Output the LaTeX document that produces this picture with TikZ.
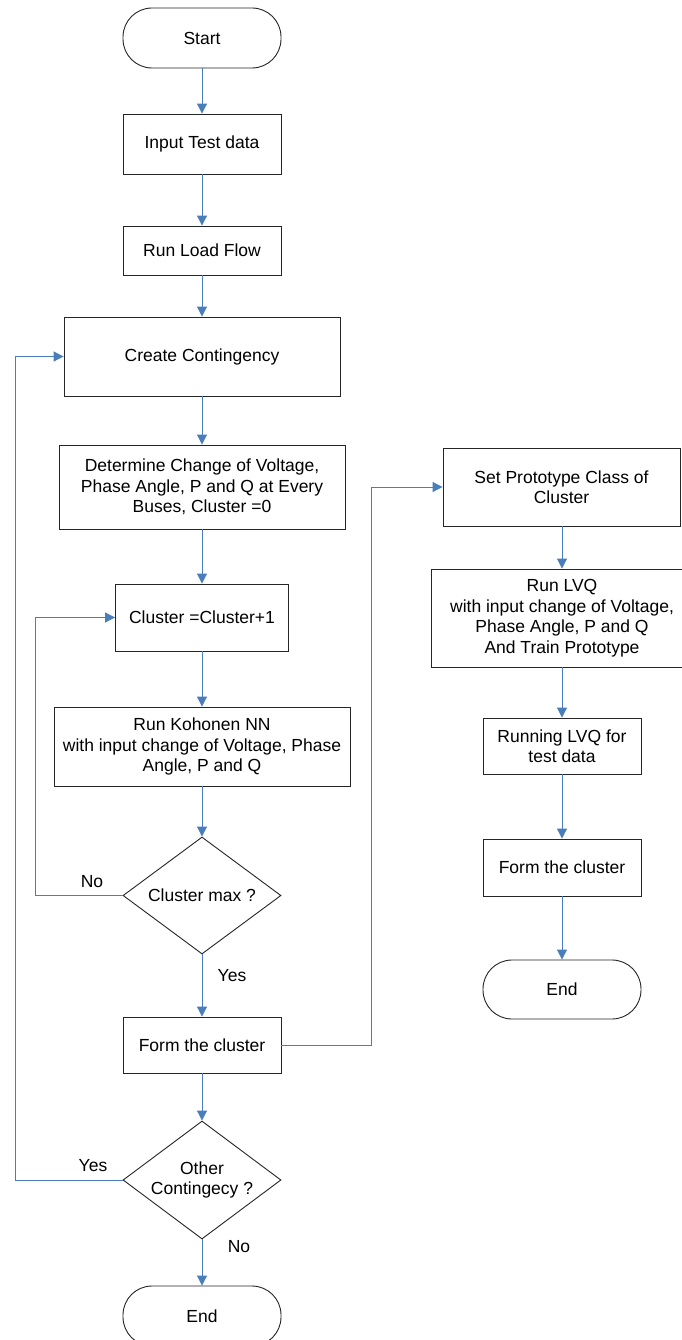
\documentclass[tikz,border=0pt]{standalone}
\usepackage{fontspec}
\setmainfont{Liberation Sans}
\usetikzlibrary{shapes.geometric,arrows.meta}
\definecolor{flowblue}{RGB}{74,126,187}
\newcommand{\flowfont}{\fontsize{17.5}{20.5}\selectfont}
\begin{document}
\begin{tikzpicture}[x=1pt,y=-1pt,
  stepbox/.style={draw=black!85, line width=0.9pt, inner sep=0pt, align=center, font=\flowfont, fill=white},
  term/.style={stepbox, rounded corners=29pt},
  decide/.style={draw=black!85, line width=0.9pt, shape=diamond, shape aspect=1.34, inner sep=0pt, align=center, font=\flowfont},
  conn/.style={draw=flowblue, line width=1pt, -{Triangle[length=10pt,width=10pt]}},
  lbl/.style={font=\flowfont, inner sep=0pt}
]
\useasboundingbox (0,0) rectangle (682,1340);
\fill[white] (0,0) rectangle (682,1340);

\node[term, minimum width=158pt, minimum height=60pt] (start) at (202,38) {Start};
\node[stepbox, minimum width=158pt, minimum height=60pt] (input) at (202,144) {Input Test data};
\node[stepbox, minimum width=158pt, minimum height=49pt] (rlf) at (202,250.5) {Run Load Flow};
\node[stepbox, minimum width=276pt, minimum height=79pt] (cc) at (202,356.5) {Create Contingency};
\node[stepbox, minimum width=286pt, minimum height=84pt] (det) at (202,487) {Determine Change of Voltage,\\Phase Angle, P and Q at Every\\Buses, Cluster =0};
\node[stepbox, minimum width=173pt, minimum height=67pt] (c1) at (202,617.5) {Cluster =Cluster+1};
\node[stepbox, minimum width=296pt, minimum height=79pt] (koh) at (202,746.5) {Run Kohonen NN\\with input change of Voltage, Phase\\Angle, P and Q};
\node[decide, minimum width=158pt, minimum height=117pt] (cmax) at (202,895.5) {Cluster max ?};
\node[stepbox, minimum width=158pt, minimum height=56pt] (form1) at (202,1045) {Form the cluster};
\node[decide, minimum width=158pt, minimum height=118pt] (other) at (202,1180) {Other\\Contingecy ?};
\node[term, minimum width=158pt, minimum height=60pt] (end1) at (202,1316) {End};

\node[stepbox, minimum width=237pt, minimum height=78pt] (setp) at (561.5,487) {Set Prototype Class of\\Cluster};
\node[stepbox, minimum width=262pt, minimum height=98pt] (lvq) at (562,618) {Run LVQ\\with input change of Voltage,\\Phase Angle, P and Q\\And Train Prototype};
\node[stepbox, minimum width=158pt, minimum height=56pt] (rlvq) at (562,746) {Running LVQ for\\test data};
\node[stepbox, minimum width=158pt, minimum height=57pt] (form2) at (562,867.5) {Form the cluster};
\node[term, minimum width=158pt, minimum height=59pt] (end2) at (562,989.5) {End};

\coordinate (noL) at (35,0);
\coordinate (yesL) at (15,0);
\coordinate (midL) at (371,0);

\draw[conn] (start) -- (input);
\draw[conn] (input) -- (rlf);
\draw[conn] (rlf) -- (cc);
\draw[conn] (cc) -- (det);
\draw[conn] (det) -- (c1);
\draw[conn] (c1) -- (koh);
\draw[conn] (koh) -- (cmax);
\draw[conn] (cmax) -- (form1);
\draw[conn] (form1) -- (other);
\draw[conn] (other) -- (end1);
\draw[conn] (cmax.west) -- (cmax.west -| noL) |- (c1.west);
\draw[conn] (other.west) -- (other.west -| yesL) |- (cc.west);
\draw[conn] (form1.east) -- (form1.east -| midL) |- (setp.west);
\draw[conn] (setp.south -| lvq.north) -- (lvq);
\draw[conn] (lvq) -- (rlvq);
\draw[conn] (rlvq) -- (form2);
\draw[conn] (form2) -- (end2);

\node[lbl] (lno1) at (92,882) {No};
\node[lbl] (lyes1) at (232,976) {Yes};
\node[lbl] (lyes2) at (93,1166) {Yes};
\node[lbl] (lno2) at (239,1247) {No};
\end{tikzpicture}
\end{document}
